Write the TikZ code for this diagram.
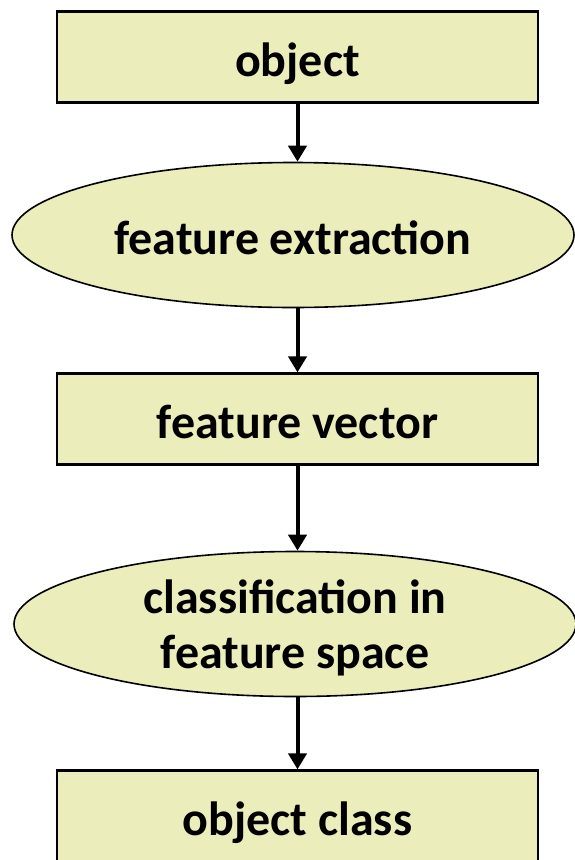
\documentclass[tikz,border=0pt]{standalone}
\usepackage{fontspec}
\setmainfont{Carlito}
\usepackage{tikz}
\usetikzlibrary{arrows.meta,shapes.geometric,positioning}
\definecolor{stagefill}{RGB}{235,237,187}
\tikzset{
  oneline/.style={text height=38pt, text depth=0pt},
  stagebox/.style={draw=black, line width=2.2pt, fill=stagefill, rectangle,
    minimum width=481pt, minimum height=91pt, inner sep=0pt, oneline,
    font=\fontsize{48}{55}\selectfont\bfseries},
  stageoval/.style={draw=black, line width=1.6pt, fill=stagefill, ellipse,
    minimum width=562pt, minimum height=145pt, inner sep=0pt, align=center,
    font=\fontsize{48}{55}\selectfont\bfseries},
  flow/.style={line width=4pt, -{Triangle[length=16pt,width=18pt]}}
}

\begin{document}
\begin{tikzpicture}[x=1pt,y=-1pt]
\useasboundingbox (0,0) rectangle (575,860);
\node[stagebox]  (obj)  at (297.5,57)  {object};
\node[stageoval, oneline] (fext) at (293,235) {feature extraction};
\node[stagebox]  (fvec) at (297.5,419) {feature vector};
\node[stageoval, text height=95pt, text depth=7pt] (cls) at (295,624)
  {classification in\\feature space};
\node[stagebox]  (ocls) at (297.5,816) {object class};
\draw[flow] (obj.south)  -- (obj.south |- fext.north);
\draw[flow] (obj.south |- fext.south) -- (fvec.north);
\draw[flow] (fvec.south) -- (fvec.south |- cls.north);
\draw[flow] (fvec.south |- cls.south) -- (ocls.north);
\end{tikzpicture}
\end{document}
